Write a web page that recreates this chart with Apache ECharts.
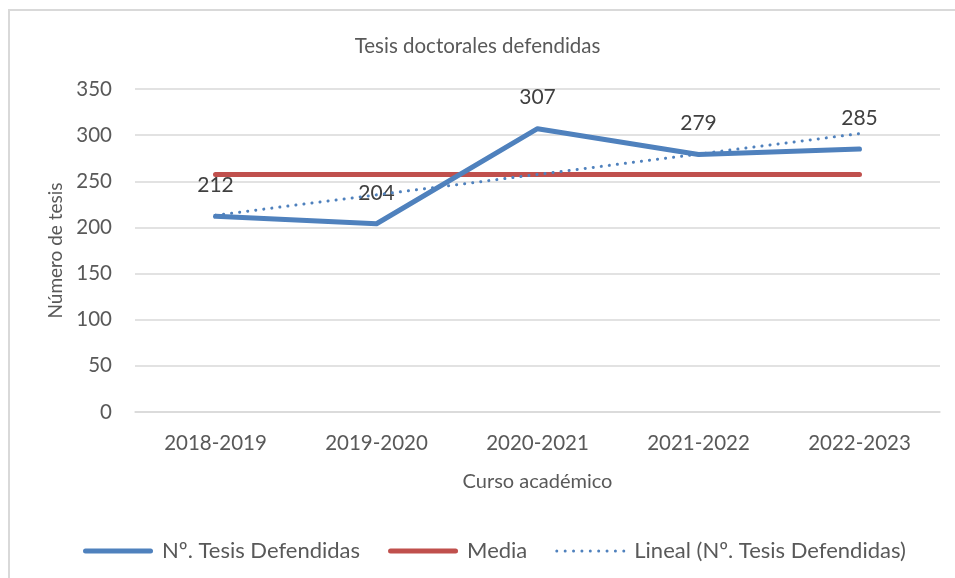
<!DOCTYPE html>
<html>
<head>
<meta charset="utf-8">
<script src="https://cdn.jsdelivr.net/npm/echarts@6/dist/echarts.min.js"></script>
<style>
  html, body { margin: 0; padding: 0; background: #fff; }
  #frame { position: absolute; left: 8px; top: 9px; width: 947px; height: 569px;
           border-top: 2px solid #d9d9d9; border-left: 2px solid #d9d9d9; }
  #main { position: absolute; left: 0; top: 0; width: 955px; height: 578px; }
</style>
</head>
<body>
<div id="frame"></div>
<div id="main"></div>
<script type="text/javascript">
  // datos
  var cursos = ['2018-2019', '2019-2020', '2020-2021', '2021-2022', '2022-2023'];
  var tesis = [212, 204, 307, 279, 285];
  var media = [257.4, 257.4, 257.4, 257.4, 257.4];
  var lineal = [213.2, 235.3, 257.4, 279.5, 301.6];
  var yTicks = [0, 50, 100, 150, 200, 250, 300, 350];

  var azul = '#4F81BD';
  var rojo = '#C0504D';
  var fuente = 'Lato';

  // iconos de la leyenda: línea gruesa y línea de puntos
  var iconoLinea = 'path://M2.5,0H67.5A2.5,2.5,0,0,1,67.5,5H2.5A2.5,2.5,0,0,1,2.5,0Z';
  var iconoPuntos = 'path://M0,0M70,5';
  for (var i = 0; i < 9; i++) {
    var cx = 1.5 + i * 8.375;
    iconoPuntos += 'M' + (cx - 1.5) + ',2.5a1.5,1.5,0,1,0,3,0a1.5,1.5,0,1,0,-3,0Z';
  }

  var chart = echarts.init(document.getElementById('main'), null, { renderer: 'canvas' });

  chart.setOption({
    animation: false,
    textStyle: { fontFamily: fuente },
    title: {
      text: 'Tesis doctorales defendidas',
      left: 'center',
      top: 31,
      textStyle: { fontFamily: fuente, fontSize: 20.5, fontWeight: 'normal', color: '#595959' }
    },
    legend: {
      top: 535,
      left: 78,
      itemWidth: 70,
      itemHeight: 5,
      itemGap: 28,
      textStyle: { fontFamily: fuente, fontSize: 22, color: '#595959', padding: [0, 0, 0, 4] },
      data: [
        { name: 'Nº. Tesis Defendidas', icon: iconoLinea },
        { name: 'Media', icon: iconoLinea },
        { name: 'Lineal (Nº. Tesis Defendidas)', icon: iconoPuntos }
      ]
    },
    grid: { left: 135, right: 15, top: 89, bottom: 166 },
    xAxis: {
      type: 'category',
      data: cursos,
      name: 'Curso académico',
      nameLocation: 'middle',
      nameGap: 60,
      nameTextStyle: { fontFamily: fuente, fontSize: 20, color: '#595959' },
      axisLine: { lineStyle: { color: '#d9d9d9', width: 1.5 } },
      axisTick: { show: false },
      axisLabel: { fontFamily: fuente, fontSize: 20.5, color: '#595959', margin: 21 }
    },
    yAxis: {
      type: 'value',
      min: yTicks[0],
      max: yTicks[yTicks.length - 1],
      interval: 50,
      name: 'Número de tesis',
      nameLocation: 'middle',
      nameGap: 70,
      nameTextStyle: { fontFamily: fuente, fontSize: 19, color: '#595959' },
      axisLine: { show: false },
      axisTick: { show: false },
      splitLine: { lineStyle: { color: '#d9d9d9', width: 1.5 } },
      axisLabel: { fontFamily: fuente, fontSize: 20.5, color: '#595959', margin: 23 }
    },
    series: [
      {
        name: 'Nº. Tesis Defendidas',
        type: 'line',
        data: tesis,
        symbol: 'circle',
        symbolSize: 1,
        showSymbol: true,
        z: 3,
        itemStyle: { color: azul },
        lineStyle: { color: azul, width: 5, cap: 'round', join: 'round' },
        label: {
          show: true,
          position: 'top',
          distance: 20,
          fontFamily: fuente,
          fontSize: 21,
          color: '#404040'
        },
        emphasis: { disabled: true }
      },
      {
        name: 'Media',
        type: 'line',
        data: media,
        symbol: 'none',
        z: 2,
        itemStyle: { color: rojo },
        lineStyle: { color: rojo, width: 5, cap: 'round' },
        emphasis: { disabled: true }
      },
      {
        name: 'Lineal (Nº. Tesis Defendidas)',
        type: 'line',
        data: lineal,
        symbol: 'none',
        z: 4,
        itemStyle: { color: azul },
        lineStyle: { color: azul, width: 3, type: [0.1, 8], cap: 'round' },
        emphasis: { disabled: true }
      }
    ]
  });
</script>
</body>
</html>
